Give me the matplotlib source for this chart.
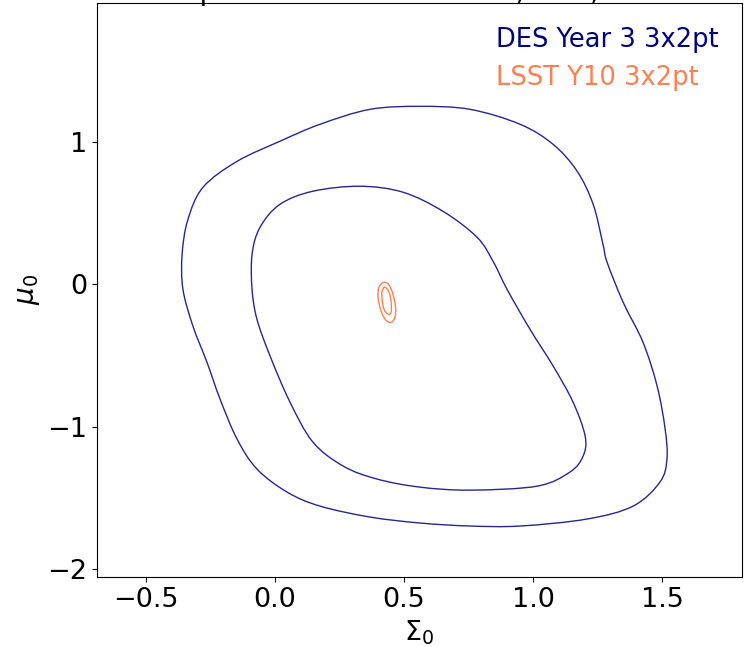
"""Sigma0 / mu0 contours: DES Y3 3x2pt vs LSST Y10 3x2pt forecast."""
import numpy as np
import matplotlib
matplotlib.use("Agg")
import matplotlib.pyplot as plt
from matplotlib.path import Path
from matplotlib.patches import PathPatch

# ---- Data: contour vertices (Sigma0, mu0) ----
des_95_sigma0 = [-0.279, -0.147, 0.019, 0.174, 0.368, 0.562, 0.756, 0.950, 1.078, 1.171,
                 1.233, 1.271, 1.287, 1.349, 1.426, 1.481, 1.512, 1.519, 1.492, 1.388,
                 1.209, 0.950, 0.756, 0.562, 0.368, 0.174, 0.047, -0.070, -0.147, -0.213,
                 -0.264, -0.318, -0.357, -0.360, -0.338]
des_95_mu0 = [0.681, 0.863, 1.004, 1.123, 1.228, 1.249, 1.228, 1.123, 0.982, 0.793,
              0.561, 0.281, 0.154, -0.126, -0.407, -0.716, -1.018, -1.228, -1.389, -1.558,
              -1.649, -1.698, -1.698, -1.677, -1.635, -1.558, -1.460, -1.298, -1.088, -0.807,
              -0.547, -0.295, -0.035, 0.211, 0.452]

des_68_sigma0 = [-0.089, -0.058, 0.019, 0.147, 0.329, 0.496, 0.651, 0.783, 0.845, 0.899,
                 0.988, 1.078, 1.155, 1.202, 1.194, 1.143, 1.016, 0.756, 0.562, 0.395,
                 0.264, 0.147, 0.058, -0.019, -0.070, -0.089]
des_68_mu0 = [0.211, 0.400, 0.561, 0.653, 0.688, 0.646, 0.512, 0.330, 0.161, -0.035,
              -0.316, -0.575, -0.828, -1.067, -1.207, -1.319, -1.418, -1.446, -1.425, -1.368,
              -1.277, -1.109, -0.828, -0.505, -0.246, -0.035]

lsst_95_sigma0 = [0.422, 0.442, 0.457, 0.467, 0.465, 0.450, 0.430, 0.411, 0.399, 0.403]
lsst_95_mu0 = [0.014, -0.007, -0.070, -0.161, -0.232, -0.267, -0.253, -0.189, -0.091, -0.021]

lsst_68_sigma0 = [0.426, 0.442, 0.450, 0.450, 0.438, 0.422, 0.415, 0.415]
lsst_68_mu0 = [-0.021, -0.056, -0.126, -0.196, -0.211, -0.175, -0.105, -0.049]

labels = ["DES Year 3 3x2pt", "LSST Y10 3x2pt"]
TITLE = "Spatial curvature model, DES, LSST"

DES_C = "navy"
LSST_C = "coral"


def smooth_loop(xs, ys):
    # closed Catmull-Rom loop drawn as cubic Bezier segments through the vertices
    p = np.column_stack([xs, ys])
    n = len(p)
    verts = [p[0]]
    codes = [Path.MOVETO]
    for i in range(n):
        p0, p1, p2, p3 = p[i - 1], p[i], p[(i + 1) % n], p[(i + 2) % n]
        verts += [p1 + (p2 - p0) / 6.0, p2 - (p3 - p1) / 6.0, p2]
        codes += [Path.CURVE4] * 3
    return Path(np.array(verts), codes)


fig = plt.figure(figsize=(7.49, 6.47), dpi=100)
ax = fig.add_axes([0.1295, 0.1082, 0.8612, 0.8872])

for xs, ys in [(des_95_sigma0, des_95_mu0), (des_68_sigma0, des_68_mu0)]:
    ax.add_patch(PathPatch(smooth_loop(xs, ys), fill=False, edgecolor=DES_C, lw=1.0, alpha=0.85))
for xs, ys in [(lsst_95_sigma0, lsst_95_mu0), (lsst_68_sigma0, lsst_68_mu0)]:
    ax.add_patch(PathPatch(smooth_loop(xs, ys), fill=False, edgecolor=LSST_C, lw=1.0))

ax.set_xlim(-0.69, 1.81)
ax.set_ylim(-2.056, 1.975)
ax.set_xticks([-0.5, 0.0, 0.5, 1.0, 1.5])
ax.set_yticks([-2, -1, 0, 1])
ax.tick_params(labelsize=19.5)
ax.set_xlabel(r"$\Sigma_0$", fontsize=19.5)
ax.set_ylabel(r"$\mu_0$", fontsize=20)

ax.text(0.619, 0.935, labels[0], transform=ax.transAxes, color=DES_C, fontsize=18.5,
        ha="left", va="center")
ax.text(0.619, 0.869, labels[1], transform=ax.transAxes, color=LSST_C, fontsize=18.5,
        ha="left", va="center")

# title sits above the canvas edge, only descenders visible
fig.text(0.572, 1.0, TITLE, fontsize=20, ha="center", va="baseline")

fig.savefig("out.png", dpi=100)
